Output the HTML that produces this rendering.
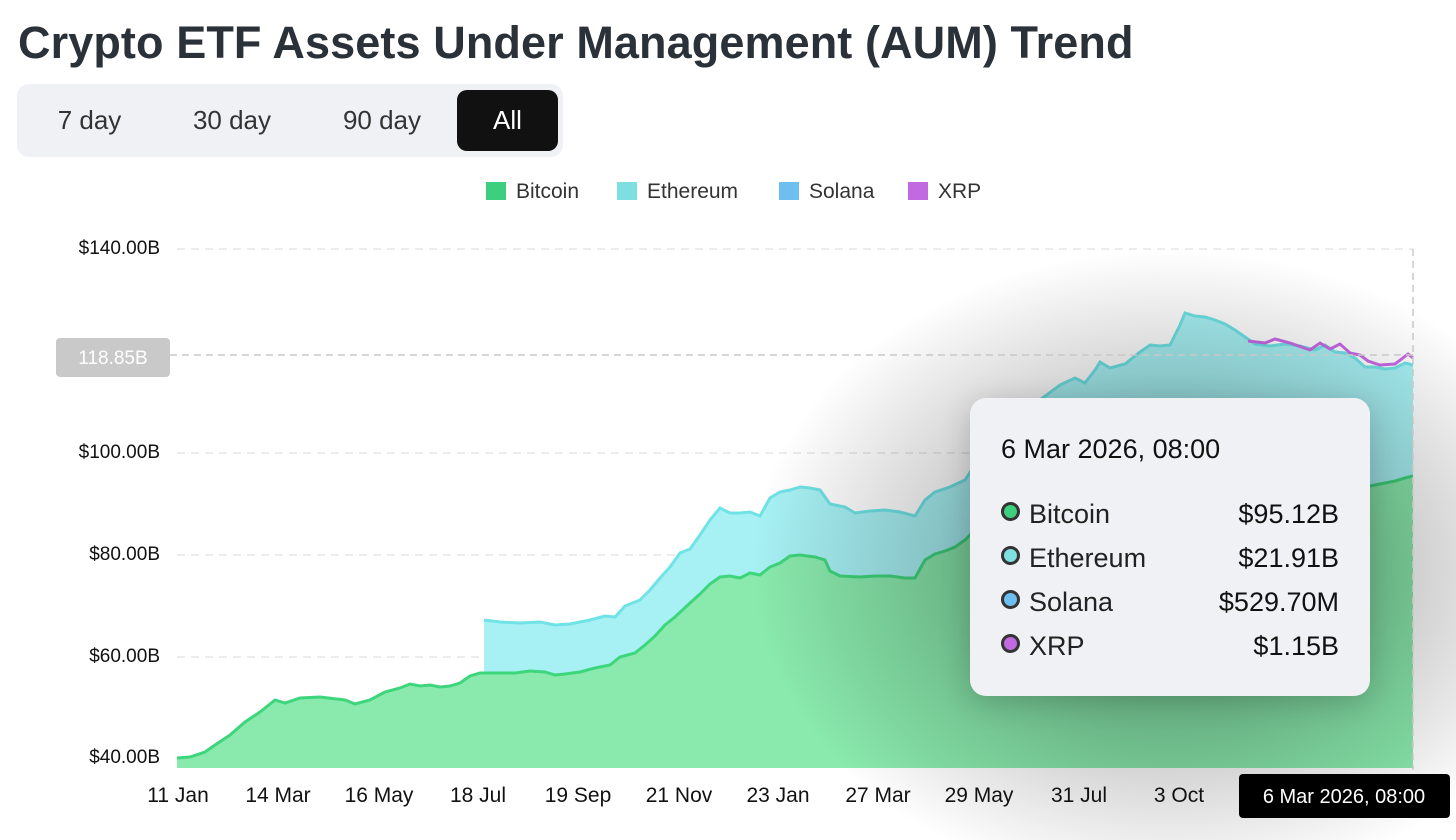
<!DOCTYPE html>
<html><head><meta charset="utf-8"><style>
html,body{margin:0;width:1456px;height:840px;overflow:hidden}
body{background:#fff;font-family:"Liberation Sans",sans-serif;position:relative}
.t{position:absolute;left:18px;top:17px;font-size:45px;font-weight:bold;color:#2b3139;letter-spacing:0.1px}
.tabs{position:absolute;left:17px;top:84px;width:546px;height:73px;background:#f0f1f4;border-radius:12px}
.tab{position:absolute;top:6px;height:61px;line-height:61px;font-size:26px;color:#333;text-align:center}
.tab.on{background:#111;color:#fff;border-radius:10px}
.lg{position:absolute;top:180px;font-size:21px;color:#333}
.lg i{display:inline-block;width:20px;height:18px;margin-right:10px;vertical-align:-2px}
.yl{position:absolute;left:40px;width:120px;text-align:right;font-size:19px;color:#111}
.xl{position:absolute;top:784px;font-size:21px;color:#111;transform:translateX(-50%)}
.tip{position:absolute;left:970px;top:398px;width:400px;height:298px;background:#f0f1f5;border-radius:16px;box-shadow:0 6px 30px rgba(0,0,0,0.18)}
.tip .d{position:absolute;left:31px;top:36px;font-size:27px;color:#111}
.row{position:absolute;left:31px;width:338px;font-size:27px;color:#222}
.row b{font-weight:normal;float:right;color:#111}
.row i{display:inline-block;width:13px;height:13px;border:3px solid #333;border-radius:50%;margin-right:9px;vertical-align:2px}
</style></head><body>
<div class="t">Crypto ETF Assets Under Management (AUM) Trend</div>
<div class="tabs">
<div class="tab" style="left:10px;width:125px">7 day</div>
<div class="tab" style="left:150px;width:130px">30 day</div>
<div class="tab" style="left:300px;width:130px">90 day</div>
<div class="tab on" style="left:440px;width:101px">All</div>
</div>
<div class="lg" style="left:486px"><i style="background:#3ecf7e"></i>Bitcoin</div>
<div class="lg" style="left:617px"><i style="background:#7ddfe0"></i>Ethereum</div>
<div class="lg" style="left:779px"><i style="background:#6dbff0"></i>Solana</div>
<div class="lg" style="left:908px"><i style="background:#c069e0"></i>XRP</div>

<svg width="1456" height="840" style="position:absolute;left:0;top:0">
<defs><radialGradient id="sh" cx="0.5" cy="0.5" r="0.5">
<stop offset="0" stop-color="#000" stop-opacity="0.42"/>
<stop offset="0.5" stop-color="#000" stop-opacity="0.22"/>
<stop offset="1" stop-color="#000" stop-opacity="0"/></radialGradient></defs>
<g stroke="#e6e6e6" stroke-width="1.5" stroke-dasharray="8,6">
<line x1="177" y1="249" x2="1413" y2="249"/><line x1="177" y1="453" x2="1413" y2="453"/>
<line x1="177" y1="555" x2="1413" y2="555"/><line x1="177" y1="657" x2="1413" y2="657"/>
<line x1="177" y1="758" x2="1413" y2="758"/></g>
<polygon fill="#a7f1f4" points="484,768 484,620 500,622 520,623 540,622 555,625 570,624 590,620 605,616 615,617 625,606 640,600 650,590 660,578 670,567 680,553 690,549 700,535 710,520 720,508 730,513 740,513 750,512 760,516 770,498 780,492 790,490 800,487 810,488 820,490 830,504 845,507 855,513 870,511 885,510 900,512 915,516 925,500 935,492 950,487 965,480 975,465 990,440 1000,420 1040,400 1060,385 1075,378 1085,383 1095,370 1100,362 1110,368 1125,364 1140,352 1150,345 1160,346 1170,345 1180,325 1185,313 1195,316 1205,317 1215,320 1225,324 1235,330 1245,337 1255,344 1270,346 1285,344 1300,346 1315,350 1325,345 1335,352 1345,353 1355,358 1365,367 1375,367 1385,369 1395,368 1405,363 1413,365 1413,768"/>
<polyline fill="none" stroke="#6fe3e6" stroke-width="3" points="484,620 500,622 520,623 540,622 555,625 570,624 590,620 605,616 615,617 625,606 640,600 650,590 660,578 670,567 680,553 690,549 700,535 710,520 720,508 730,513 740,513 750,512 760,516 770,498 780,492 790,490 800,487 810,488 820,490 830,504 845,507 855,513 870,511 885,510 900,512 915,516 925,500 935,492 950,487 965,480 975,465 990,440 1000,420 1040,400 1060,385 1075,378 1085,383 1095,370 1100,362 1110,368 1125,364 1140,352 1150,345 1160,346 1170,345 1180,325 1185,313 1195,316 1205,317 1215,320 1225,324 1235,330 1245,337 1255,344 1270,346 1285,344 1300,346 1315,350 1325,345 1335,352 1345,353 1355,358 1365,367 1375,367 1385,369 1395,368 1405,363 1413,365"/>
<polyline fill="none" stroke="#c86be6" stroke-width="3" points="1248,341 1265,343 1275,339 1290,343 1310,350 1320,343 1330,349 1340,344 1350,353 1360,355 1368,361 1380,365 1395,364 1408,354 1413,358"/>
<polygon fill="#8aeaad" points="177,768 177,758 190,757 205,752 215,745 230,735 245,722 260,712 275,700 285,703 300,698 320,697 345,700 355,704 370,700 385,692 400,688 410,684 420,686 430,685 440,687 450,686 460,683 470,676 480,673 490,673 500,673 515,673 530,671 545,672 555,675 565,674 580,672 595,668 610,665 620,657 635,653 645,645 655,636 665,625 675,617 690,603 700,594 710,584 720,577 730,576 740,578 750,573 760,575 770,567 780,563 790,556 800,555 815,557 825,560 830,571 840,576 860,577 875,576 890,576 905,578 915,578 925,560 935,554 945,551 955,547 965,540 975,530 1000,520 1050,505 1100,495 1150,490 1200,482 1250,485 1300,483 1340,487 1370,486 1395,481 1405,478 1413,476 1413,768"/>
<polyline fill="none" stroke="#3ed67d" stroke-width="3" points="177,758 190,757 205,752 215,745 230,735 245,722 260,712 275,700 285,703 300,698 320,697 345,700 355,704 370,700 385,692 400,688 410,684 420,686 430,685 440,687 450,686 460,683 470,676 480,673 490,673 500,673 515,673 530,671 545,672 555,675 565,674 580,672 595,668 610,665 620,657 635,653 645,645 655,636 665,625 675,617 690,603 700,594 710,584 720,577 730,576 740,578 750,573 760,575 770,567 780,563 790,556 800,555 815,557 825,560 830,571 840,576 860,577 875,576 890,576 905,578 915,578 925,560 935,554 945,551 955,547 965,540 975,530 1000,520 1050,505 1100,495 1150,490 1200,482 1250,485 1300,483 1340,487 1370,486 1395,481 1405,478 1413,476"/>
<ellipse cx="1170" cy="570" rx="420" ry="320" fill="url(#sh)"/>
<g stroke="#c8c8c8" stroke-width="1.5" stroke-dasharray="7,5">
<line x1="170" y1="355" x2="1413" y2="355"/><line x1="1413" y1="249" x2="1413" y2="770"/></g>
<rect x="56" y="338" width="114" height="39" rx="4" fill="#c9c9c9"/>
<text x="113" y="364" font-size="19" fill="#fff" text-anchor="middle" font-family="Liberation Sans">118.85B</text>
<rect x="1239" y="774" width="211" height="44" rx="4" fill="#000"/>
<text x="1344" y="803" font-size="20" fill="#fff" text-anchor="middle" font-family="Liberation Sans">6 Mar 2026, 08:00</text>
</svg>
<div class="yl" style="top:238px">$140.00B</div>
<div class="yl" style="top:442px">$100.00B</div>
<div class="yl" style="top:544px">$80.00B</div>
<div class="yl" style="top:646px">$60.00B</div>
<div class="yl" style="top:747px">$40.00B</div>
<div class="xl" style="left:178px">11 Jan</div>
<div class="xl" style="left:278px">14 Mar</div>
<div class="xl" style="left:379px">16 May</div>
<div class="xl" style="left:478px">18 Jul</div>
<div class="xl" style="left:578px">19 Sep</div>
<div class="xl" style="left:679px">21 Nov</div>
<div class="xl" style="left:778px">23 Jan</div>
<div class="xl" style="left:878px">27 Mar</div>
<div class="xl" style="left:979px">29 May</div>
<div class="xl" style="left:1079px">31 Jul</div>
<div class="xl" style="left:1179px">3 Oct</div>
<div class="tip">
<div class="d">6 Mar 2026, 08:00</div>
<div class="row" style="top:101px"><i style="background:#3ecf7e"></i>Bitcoin<b>$95.12B</b></div>
<div class="row" style="top:145px"><i style="background:#7ddfe0"></i>Ethereum<b>$21.91B</b></div>
<div class="row" style="top:189px"><i style="background:#6dbff0"></i>Solana<b>$529.70M</b></div>
<div class="row" style="top:233px"><i style="background:#c069e0"></i>XRP<b>$1.15B</b></div>
</div>
</body></html>
